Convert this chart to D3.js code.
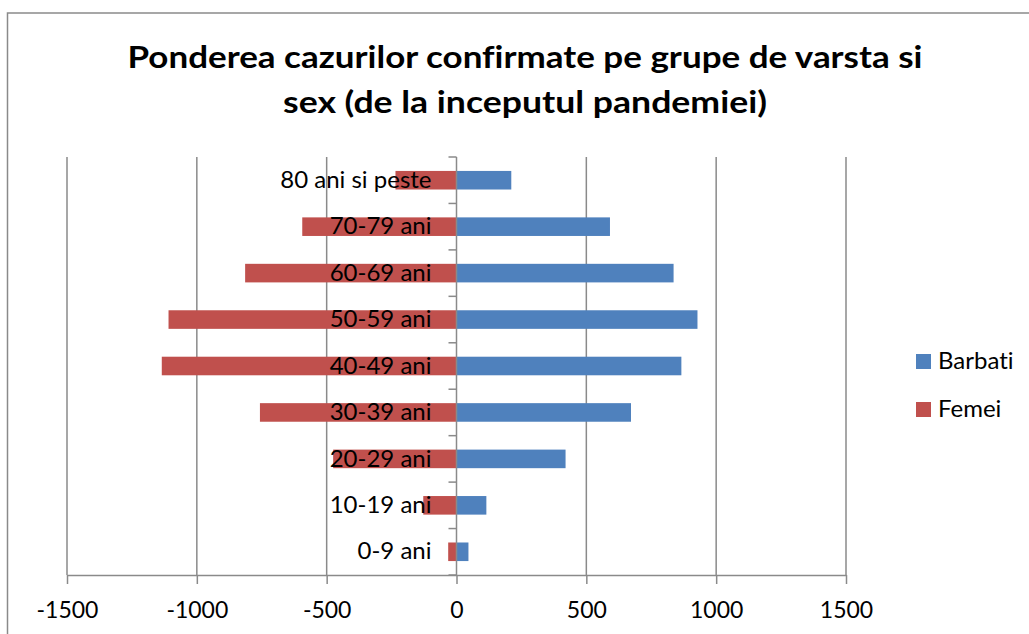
<!DOCTYPE html>
<html>
<head>
<meta charset="utf-8">
<script src="https://cdn.jsdelivr.net/npm/d3@7"></script>
<style>
  body { margin: 0; background: #fff; }
  text { font-family: Lato, "Open Sans", sans-serif; font-variant-ligatures: none; }
</style>
</head>
<body>
<svg class="container"></svg>
<script>
const categories = ["0-9 ani", "10-19 ani", "20-29 ani", "30-39 ani", "40-49 ani",
  "50-59 ani", "60-69 ani", "70-79 ani", "80 ani si peste"];
const barbati = [46, 115, 420, 672, 866, 928, 836, 591, 211];
const femei = [-32, -128, -475, -757, -1135, -1109, -814, -594, -235];
const xTicks = [-1500, -1000, -500, 0, 500, 1000, 1500];
const seriesNames = ["Barbati", "Femei"];
const titleLines = ["Ponderea cazurilor confirmate pe grupe de varsta si",
  "sex (de la inceputul pandemiei)"];

const width = 1029;
const height = 634;
const colors = ["#4F81BD", "#C0504D"];
const gray = "#8a8a8a";
const fontFam = "Lato, 'Open Sans', sans-serif";

const svg = d3.select(".container").attr("width", width).attr("height", height);

// chart border
svg.append("rect")
  .attr("x", 7.5).attr("y", 13)
  .attr("width", 1040).attr("height", 700)
  .attr("fill", "none").attr("stroke", gray).attr("stroke-width", 1.5);

// title
svg.selectAll(".title")
  .data(titleLines)
  .enter()
  .append("text")
  .attr("class", "title")
  .attr("x", 525)
  .attr("y", (d, i) => 68 + i * 45)
  .attr("text-anchor", "middle")
  .attr("font-size", 31)
  .attr("font-weight", "bold")
  .attr("textLength", (d, i) => (i === 0 ? 795 : 484))
  .attr("lengthAdjust", "spacingAndGlyphs")
  .text((d) => d);

const plotTop = 157, plotBottom = 575;

const xScale = d3.scaleLinear().domain([-1500, 1500]).range([67, 846]);
const yScale = d3.scaleBand()
  .domain(categories)
  .range([plotBottom, plotTop])
  .paddingInner(0.6)
  .paddingOuter(0.3);

// vertical gridlines
svg.selectAll(".grid")
  .data(xTicks.filter((d) => d !== 0))
  .enter()
  .append("line")
  .attr("x1", (d) => xScale(d)).attr("x2", (d) => xScale(d))
  .attr("y1", plotTop).attr("y2", plotBottom)
  .attr("stroke", gray).attr("stroke-width", 1.5);

// bars
const rows = categories.map((c, i) => ({ cat: c, b: barbati[i], f: femei[i] }));
[["b", colors[0]], ["f", colors[1]]].forEach(([key, col]) => {
  svg.append("g")
    .selectAll("rect")
    .data(rows)
    .enter()
    .append("rect")
    .attr("x", (d) => xScale(Math.min(0, d[key])))
    .attr("y", (d) => yScale(d.cat))
    .attr("width", (d) => Math.abs(xScale(d[key]) - xScale(0)))
    .attr("height", yScale.bandwidth())
    .attr("fill", col);
});

// x axis
const xAxis = svg.append("g")
  .attr("transform", `translate(0,${plotBottom})`)
  .call(d3.axisBottom(xScale)
    .tickValues(xTicks)
    .tickFormat((d) => String(d))
    .tickSize(9).tickSizeOuter(0).tickPadding(18));
xAxis.select(".domain").attr("stroke", gray).attr("stroke-width", 1.5);
xAxis.selectAll(".tick line").attr("stroke", gray).attr("stroke-width", 1.5);
xAxis.selectAll(".tick text")
  .attr("font-size", 23).attr("fill", "#000")
  .style("font-family", fontFam);

// vertical category axis line at zero
svg.append("line")
  .attr("x1", xScale(0)).attr("x2", xScale(0))
  .attr("y1", plotTop).attr("y2", plotBottom)
  .attr("stroke", gray).attr("stroke-width", 1.5);

// tick marks between categories
const step = yScale.step();
const bounds = d3.range(categories.length + 1).map((i) => plotBottom - i * step);
svg.selectAll(".ctick")
  .data(bounds)
  .enter()
  .append("line")
  .attr("x1", xScale(0) - 8).attr("x2", xScale(0))
  .attr("y1", (d) => d).attr("y2", (d) => d)
  .attr("stroke", gray).attr("stroke-width", 1.5);

// category labels
const yAxis = svg.append("g")
  .attr("transform", `translate(${xScale(0)},0)`)
  .call(d3.axisLeft(yScale).tickSize(0).tickPadding(25));
yAxis.select(".domain").remove();
yAxis.selectAll(".tick text")
  .attr("font-size", 24).attr("fill", "#000")
  .style("font-family", fontFam);

// legend
const legend = svg.selectAll(".legend")
  .data(seriesNames)
  .enter()
  .append("g")
  .attr("transform", (d, i) => `translate(916,${354 + i * 48})`);
legend.append("rect")
  .attr("width", 15).attr("height", 15)
  .attr("fill", (d, i) => colors[i]);
legend.append("text")
  .attr("x", 22).attr("y", 15)
  .attr("font-size", 24)
  .text((d) => d);
</script>
</body>
</html>
